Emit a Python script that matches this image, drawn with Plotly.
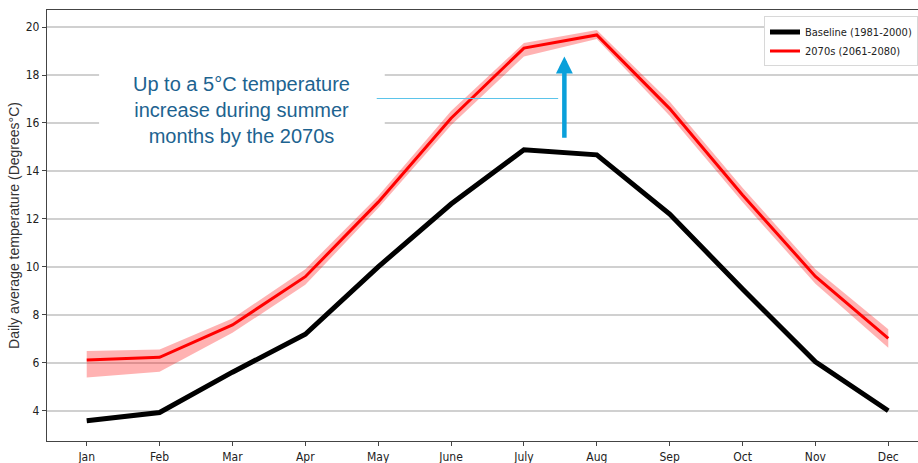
import plotly.graph_objects as go

# Monthly daily-average temperature (°C)
months = ["Jan", "Feb", "Mar", "Apr", "May", "June", "July", "Aug", "Sep", "Oct", "Nov", "Dec"]
baseline = [3.58, 3.93, 5.61, 7.19, 10.0, 12.62, 14.88, 14.67, 12.2, 9.08, 6.04, 4.0]
future = [6.12, 6.23, 7.58, 9.59, 12.7, 16.2, 19.12, 19.67, 16.6, 13.0, 9.6, 7.02]
future_upper = [6.49, 6.56, 7.85, 9.9, 12.95, 16.5, 19.33, 19.88, 16.9, 13.3, 9.9, 7.4]
future_lower = [5.39, 5.63, 7.25, 9.25, 12.45, 15.9, 18.77, 19.5, 16.3, 12.7, 9.3, 6.63]

yticks = [4, 6, 8, 10, 12, 14, 16, 18, 20]

x = list(range(len(months)))
tick_font = dict(family="DejaVu Sans Condensed, Liberation Sans Narrow, DejaVu Sans", size=12, color="#222222")
legend_font = dict(family="DejaVu Sans Condensed, Liberation Sans Narrow, DejaVu Sans", size=11, color="#222222")

fig = go.Figure()

# uncertainty band for the 2070s projection
fig.add_trace(go.Scatter(x=x, y=future_lower, mode="lines", line=dict(width=0),
                         showlegend=False, hoverinfo="skip"))
fig.add_trace(go.Scatter(x=x, y=future_upper, mode="lines", line=dict(width=0),
                         fill="tonexty", fillcolor="rgba(255,0,0,0.3)",
                         showlegend=False, hoverinfo="skip"))

fig.add_trace(go.Scatter(x=x, y=baseline, mode="lines", name="Baseline (1981-2000)",
                         line=dict(color="black", width=5)))
fig.add_trace(go.Scatter(x=x, y=future, mode="lines", name="2070s (2061-2080)",
                         line=dict(color="red", width=3)))

# white backing for the callout text (hides the gridlines behind it)
fig.add_shape(type="rect", xref="x", yref="y", x0=0.17, x1=4.09, y0=15.3, y1=18.7,
              fillcolor="white", line=dict(width=0), layer="between")

# thin leader line
fig.add_shape(type="line", xref="x", yref="y", x0=3.98, x1=6.47, y0=17.02, y1=17.02,
              line=dict(color="#5bc4ea", width=1), layer="above")

fig.add_annotation(x=2.12, y=16.55, xref="x", yref="y",
                   text="Up to a 5°C temperature<br>increase during summer<br>months by the 2070s",
                   showarrow=False, align="center",
                   font=dict(family="Liberation Sans, Arial", size=20, color="#1d6390"))

# arrow marking the summer increase
fig.add_annotation(x=6.555, y=18.77, ax=6.555, ay=15.32, xref="x", yref="y",
                   axref="x", ayref="y", text="", showarrow=True,
                   arrowhead=2, arrowsize=0.75, arrowwidth=4.5, arrowcolor="#0aa0da")

fig.update_layout(
    width=918, height=463,
    margin=dict(l=47, r=0, t=10, b=22),
    paper_bgcolor="white", plot_bgcolor="white",
    legend=dict(x=1.0, y=0.985, xanchor="right", yanchor="top", traceorder="normal",
                bgcolor="white", bordercolor="#d8d8d8", borderwidth=1,
                font=legend_font, tracegroupgap=0, itemwidth=30),
)

fig.update_xaxes(range=[-0.545, 11.408], tickmode="array", tickvals=x, ticktext=months,
                 showgrid=False, showline=True, linecolor="#444444", linewidth=1.3,
                 mirror=True, ticks="outside", ticklen=4, tickcolor="#444444",
                 tickfont=tick_font, zeroline=False)
fig.update_yaxes(range=[2.74, 20.71], tickmode="array", tickvals=yticks,
                 showgrid=True, gridcolor="#d0d0d0", gridwidth=1.5,
                 showline=True, linecolor="#444444", linewidth=1.3,
                 ticks="outside", ticklen=4, tickcolor="#444444",
                 tickfont=tick_font, zeroline=False,
                 title=dict(text="Daily average temperature (Degrees°C)", standoff=2,
                            font=dict(family="Liberation Sans, Arial", size=14, color="#333333")))

fig.write_html("out.html")
